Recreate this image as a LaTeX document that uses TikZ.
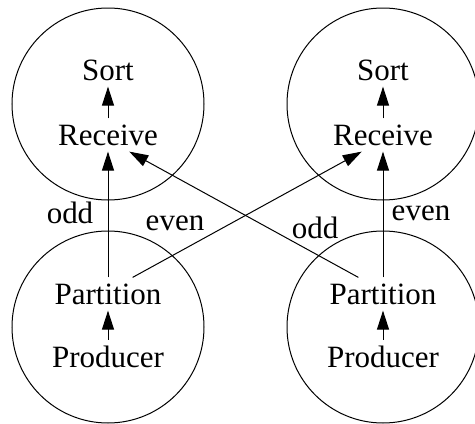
\documentclass[tikz,border=0pt]{standalone}
\usepackage{fontspec}
\setmainfont{Liberation Serif}
\usetikzlibrary{arrows.meta}
\begin{document}
\begin{tikzpicture}[x=1pt,y=-1pt,
  txt/.style={inner xsep=2pt,inner ysep=6pt,font=\fontsize{31}{37}\selectfont},
  lbl/.style={inner sep=0pt,font=\fontsize{31}{37}\selectfont},
  grp/.style={draw,circle,line width=1pt,minimum size=192pt,inner sep=0pt},
  conn/.style={line width=1pt,-{Triangle[length=19pt,width=12pt]}}]
\useasboundingbox (0,0) rectangle (475,424);
\clip (0,0) rectangle (475,424);
\node[grp] (g1) at (108,104) {};
\node[grp] (g2) at (383,104) {};
\node[grp] (g3) at (108,327) {};
\node[grp] (g4) at (383,327) {};
\node[txt] (sort1) at (108,70) {Sort};
\node[txt] (recv1) at (108,135) {Receive};
\node[txt] (part1) at (108,294) {Partition};
\node[txt] (prod1) at (108,357) {Producer};
\node[txt] (sort2) at (383,70) {Sort};
\node[txt] (recv2) at (383,135) {Receive};
\node[txt] (part2) at (383,294) {Partition};
\node[txt] (prod2) at (383,357) {Producer};
\draw[conn] (recv1) -- (sort1);
\draw[conn] (recv2) -- (sort2);
\draw[conn] (prod1) -- (part1);
\draw[conn] (prod2) -- (part2);
\draw[conn] (part1) -- (recv1);
\draw[conn] (part2) -- (recv2);
\draw[conn] (part1.34) -- (recv2.-142);
\draw[conn] (part2.146) -- (recv1.-38);
\node[lbl] (l1) at (70,213) {odd};
\node[lbl] (l2) at (175,223) {even};
\node[lbl] (l3) at (315,228) {odd};
\node[lbl] (l4) at (421,213) {even};
\end{tikzpicture}
\end{document}
